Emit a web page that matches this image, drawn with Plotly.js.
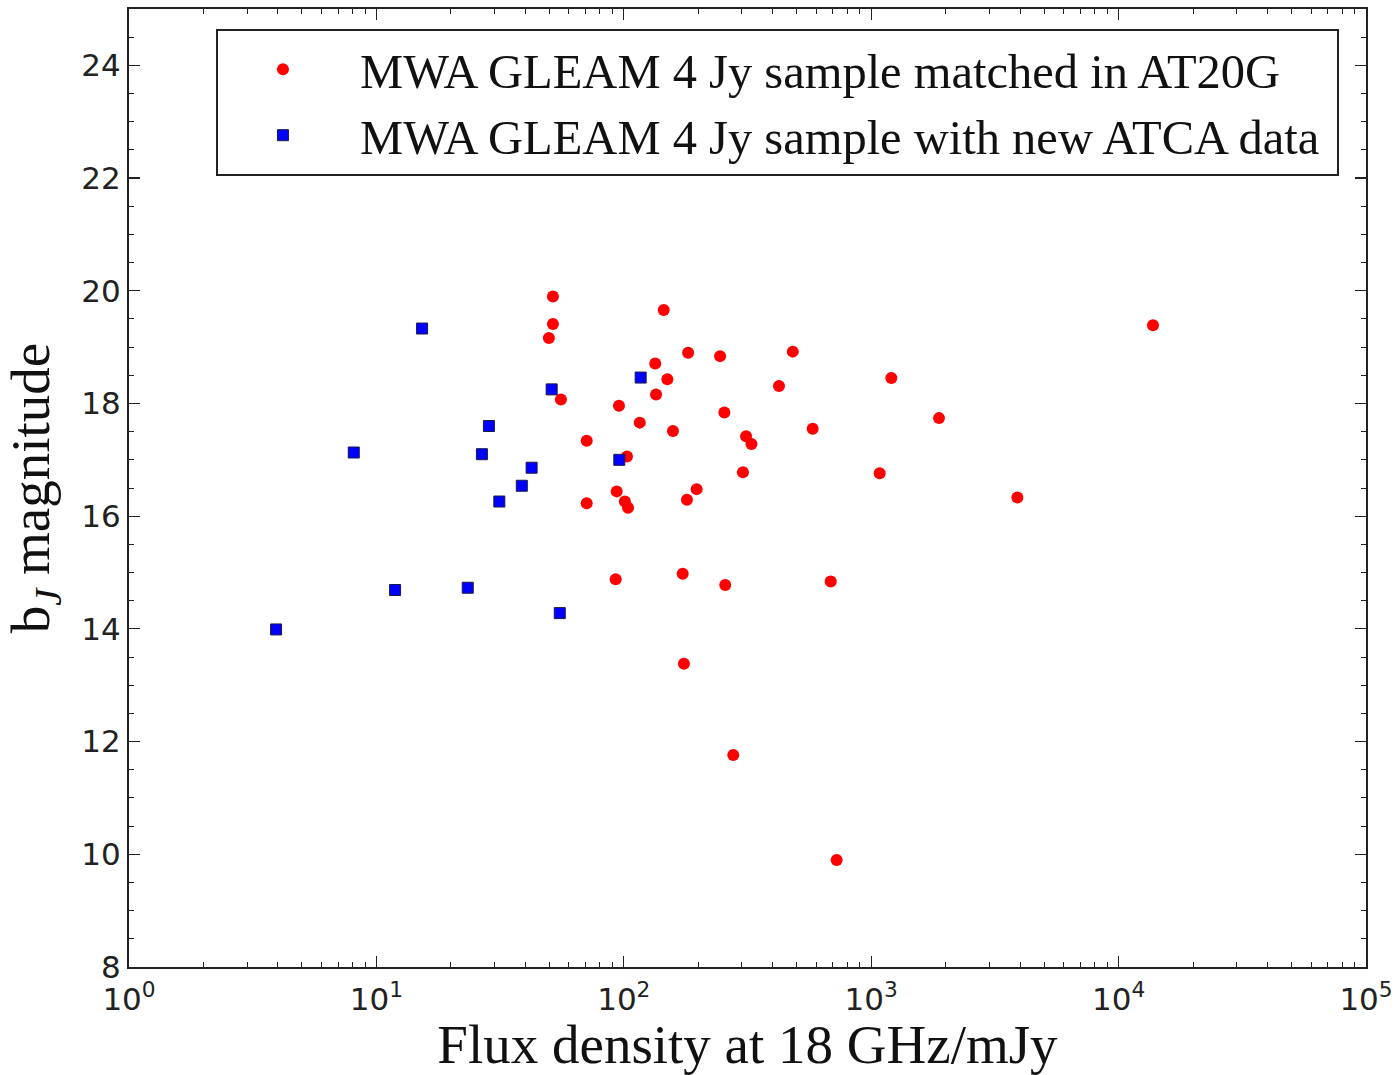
<!DOCTYPE html>
<html>
<head>
<meta charset="utf-8">
<script src="https://cdn.plot.ly/plotly-3.0.1.min.js"></script>
<style>html,body{margin:0;padding:0;background:#fff;}#chart{width:1399px;height:1075px;}</style>
</head>
<body>
<div id="chart"></div>
<script>
// Red circles: MWA GLEAM 4 Jy sample matched in AT20G
const at20gFlux = [51.7, 51.7, 49.8, 55.7, 70.8, 70.8, 92.7, 145, 182, 245, 482, 134, 150, 135, 424, 1206,
  95.6, 116, 158, 255, 1880, 580, 312, 328, 103, 303, 1082, 93.6, 101, 104, 197, 180, 173, 257, 686,
  175, 277, 725, 13770, 3897];
const at20gMag = [19.90, 19.41, 19.16, 18.07, 17.34, 16.23, 14.88, 19.66, 18.90, 18.84, 18.92, 18.71, 18.43, 18.16, 18.31, 18.45,
  17.96, 17.66, 17.51, 17.84, 17.74, 17.55, 17.42, 17.28, 17.06, 16.78, 16.76, 16.44, 16.26, 16.15, 16.48, 16.29, 14.98, 14.78, 14.84,
  13.38, 11.76, 9.90, 19.39, 16.33];

// Blue squares: MWA GLEAM 4 Jy sample with new ATCA data
const atcaFlux = [15.3, 8.1, 28.5, 26.7, 42.4, 38.7, 31.4, 51.1, 117, 95.9, 11.9, 23.4, 55.1, 3.93];
const atcaMag = [19.33, 17.13, 17.60, 17.10, 16.86, 16.54, 16.26, 18.25, 18.46, 17.00, 14.69, 14.73, 14.28, 13.99];

const xTickVals = [1, 10, 100, 1000, 10000, 100000];
const xTickText = ['10<sup>0</sup>', '10<sup>1</sup>', '10<sup>2</sup>', '10<sup>3</sup>', '10<sup>4</sup>', '10<sup>5</sup>'];
const yTickVals = [8, 10, 12, 14, 16, 18, 20, 22, 24];

const legendName1 = '\u00a0MWA GLEAM 4 Jy sample matched in AT20G';
const legendName2 = '\u00a0MWA GLEAM 4 Jy sample with new ATCA data\u00a0';

const serif = 'Liberation Serif, Times New Roman, serif';
const sans = 'DejaVu Sans, sans-serif';

const traces = [
  {
    x: at20gFlux, y: at20gMag, type: 'scatter', mode: 'markers', name: legendName1,
    legendgroup: 'a',
    marker: {symbol: 'circle', size: 12, color: '#ff0000', line: {width: 0}}
  },
  {
    x: atcaFlux, y: atcaMag, type: 'scatter', mode: 'markers', name: legendName2,
    legendgroup: 'b',
    marker: {symbol: 'square', size: 11, color: '#0000ff', line: {width: 1, color: '#1a1a4a'}}
  }
];

const axisCommon = {
  showgrid: false, zeroline: false, showline: true, linecolor: '#222', linewidth: 2,
  mirror: 'allticks', ticks: 'inside', ticklen: 11, tickwidth: 1.2, tickcolor: '#222',
  tickfont: {family: sans, size: 31, color: '#222'}
};

const layout = {
  width: 1399, height: 1075,
  margin: {l: 129, r: 33, t: 9, b: 108},
  paper_bgcolor: '#fff', plot_bgcolor: '#fff',
  showlegend: true,
  xaxis: Object.assign({}, axisCommon, {
    type: 'log', range: [0, 5],
    tickmode: 'array', tickvals: xTickVals, ticktext: xTickText,
    ticklabelstandoff: 4,
    minor: {tickmode: 'linear', dtick: 'D1', ticks: 'inside', ticklen: 5, tickwidth: 1, tickcolor: '#222'},
    title: {text: 'Flux density at 18 GHz/mJy', font: {family: serif, size: 55, color: '#111'}, standoff: 14}
  }),
  yaxis: Object.assign({}, axisCommon, {
    range: [8, 25],
    tickmode: 'array', tickvals: yTickVals,
    minor: {tickmode: 'linear', tick0: 8, dtick: 0.5, ticks: 'inside', ticklen: 5, tickwidth: 1, tickcolor: '#222'},
    title: {text: 'b<sub><i>J</i></sub> magnitude', font: {family: serif, size: 55, color: '#111'}, standoff: 16}
  }),
  legend: {
    x: 0.0703, y: 0.979, xanchor: 'left', yanchor: 'top',
    bgcolor: '#fff', bordercolor: '#222', borderwidth: 2,
    font: {family: serif, size: 48.5, color: '#111'},
    itemwidth: 120, traceorder: 'normal', tracegroupgap: 4
  }
};

Plotly.newPlot('chart', traces, layout, {staticPlot: true, displayModeBar: false});
</script>
</body>
</html>
